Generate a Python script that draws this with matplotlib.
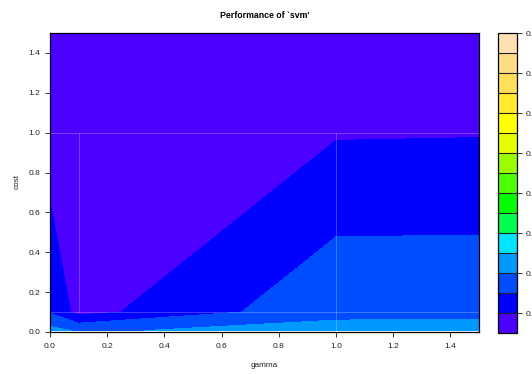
import colorsys
import numpy as np
import matplotlib
matplotlib.use("Agg")
import matplotlib.pyplot as plt
from matplotlib.colors import ListedColormap, BoundaryNorm

plt.rcParams["font.family"] = ["Liberation Sans", "DejaVu Sans"]

# tuning grid (gamma x cost) and cross-validated error at each grid point
gamma = [0.005, 0.1, 1.0, 1.5]
cost = [0.007, 0.1, 1.0, 1.5]
error = [
    [0.1629, 0.1590, 0.1629, 0.1632],   # cost = 0.007
    [0.1486, 0.1365, 0.1578, 0.1579],   # cost = 0.1
    [0.1337, 0.1350, 0.1392, 0.1395],   # cost = 1.0
    [0.1330, 0.1330, 0.1350, 0.1350],   # cost = 1.5
]
levels = [0.13, 0.14, 0.15, 0.16, 0.17, 0.18, 0.19, 0.20,
          0.21, 0.22, 0.23, 0.24, 0.25, 0.26, 0.27, 0.28]
x_ticks = [0.0, 0.2, 0.4, 0.6, 0.8, 1.0, 1.2, 1.4]
y_ticks = [0.0, 0.2, 0.4, 0.6, 0.8, 1.0, 1.2, 1.4]


def topo_colors(n):
    """R's topo.colors palette."""
    j = n // 3
    k = n // 3
    i = n - j - k
    cols = []
    for h in np.linspace(43 / 60, 31 / 60, i):
        cols.append(colorsys.hsv_to_rgb(h, 1, 1))
    for h in np.linspace(23 / 60, 11 / 60, j):
        cols.append(colorsys.hsv_to_rgb(h, 1, 1))
    for h, s in zip(np.linspace(10 / 60, 6 / 60, k), np.linspace(1, 0.3, k)):
        cols.append(colorsys.hsv_to_rgb(h, s, 1))
    return cols


W, H = 532, 374
fig = plt.figure(figsize=(W / 100, H / 100), dpi=100)

ax = fig.add_axes([50 / W, (H - 332) / H, 429 / W, 299 / H])
cax = fig.add_axes([498 / W, (H - 333) / H, 19 / W, 300 / H])

cmap = ListedColormap(topo_colors(len(levels) - 1))
norm = BoundaryNorm(levels, cmap.N)

X, Y = np.meshgrid(gamma, cost)
Z = np.array(error)
cs = ax.contourf(X, Y, Z, levels=levels, cmap=cmap, norm=norm, antialiased=False)

# faint seams along the cell boundaries of the filled polygons
seam = dict(color="white", alpha=0.28, lw=0.6, zorder=3)
ax.plot([0.1, 0.1], [0.1, 1.0], **seam)
ax.plot([1.0, 1.0], [cost[0], 1.0], **seam)
ax.plot([gamma[0], 1.5], [0.1, 0.1], **seam)
ax.plot([gamma[0], 1.5], [1.0, 1.0], **seam)

ax.set_xlim(0, 1.5)
ax.set_ylim(0, 1.5)
ax.set_xticks(x_ticks)
ax.set_yticks(y_ticks)
ax.set_xticklabels([f"{v:.1f}" for v in x_ticks])
ax.set_yticklabels([f"{v:.1f}" for v in y_ticks])
ax.tick_params(direction="out", length=3.6, width=0.7, labelsize=6.0,
               color="#333333", labelcolor="#222222")
ax.tick_params(axis="x", pad=4.0)
ax.tick_params(axis="y", pad=3.2)
for sp in ax.spines.values():
    sp.set_linewidth(0.9)
    sp.set_color("black")

fig.text(264.5 / W, 1 - 15 / H, "Performance of `svm'", ha="center", va="center",
         fontsize=6.3, fontweight="bold")
fig.text(264.5 / W, 1 - 365.5 / H, "gamma", ha="center", va="center", fontsize=5.9,
         color="#222222")
fig.text(16.7 / W, 1 - 182 / H, "cost", ha="center", va="center", fontsize=5.9,
         rotation=90, color="#222222")

cb = fig.colorbar(cs, cax=cax, drawedges=True, ticks=levels[1::2])
cb.outline.set_linewidth(0.9)
cb.outline.set_edgecolor("black")
cb.dividers.set_color("#222222")
cb.dividers.set_linewidth(0.8)
cax.yaxis.set_ticks_position("right")
cax.set_yticklabels([f"{v:.2f}" for v in levels[1::2]])
cax.tick_params(direction="out", length=3.3, width=0.7, labelsize=6.0, pad=3.2,
                color="#333333", labelcolor="#222222")
cax.minorticks_off()

fig.savefig("out.png", dpi=100)
